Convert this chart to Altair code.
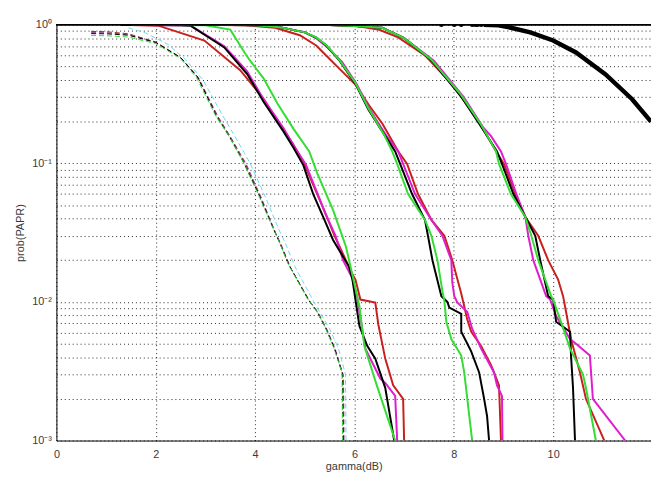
import altair as alt
import pandas as pd

# ---------------- data ----------------
# group A : dashed curves (leftmost bundle)
a_red_x = [0.70, 1.0, 1.45, 2.0, 2.5, 2.84, 3.24, 3.5, 3.8, 4.1, 4.4, 4.5, 4.7, 5.09, 5.25, 5.43, 5.6, 5.77, 5.78]
a_red_p = [0.895, 0.89, 0.86, 0.75, 0.58, 0.42, 0.22, 0.155, 0.10, 0.058, 0.032, 0.027, 0.018, 0.0102, 0.0085, 0.0064, 0.0046, 0.0030, 0.001]
a_mag_x = [0.70, 1.0, 1.45, 2.0, 2.5, 2.86, 3.25, 3.52, 3.82, 4.12, 4.42, 4.52, 4.72, 5.1, 5.27, 5.45, 5.62, 5.78, 5.79]
a_mag_p = [0.877, 0.875, 0.85, 0.745, 0.575, 0.415, 0.218, 0.152, 0.099, 0.057, 0.031, 0.026, 0.0175, 0.0101, 0.0084, 0.0063, 0.0045, 0.0029, 0.001]
a_blk_x = [0.70, 1.0, 1.45, 2.0, 2.5, 2.84, 3.22, 3.48, 3.78, 4.08, 4.38, 4.5, 4.68, 5.07, 5.24, 5.42, 5.6, 5.76, 5.77]
a_blk_p = [0.862, 0.86, 0.84, 0.744, 0.58, 0.42, 0.22, 0.156, 0.10, 0.059, 0.033, 0.0265, 0.0185, 0.0104, 0.0086, 0.0065, 0.0046, 0.0030, 0.001]
a_grn_x = [0.70, 1.0, 1.45, 2.0, 2.5, 2.82, 3.2, 3.47, 3.76, 4.06, 4.36, 4.48, 4.66, 5.05, 5.22, 5.41, 5.58, 5.75, 5.76]
a_grn_p = [0.835, 0.833, 0.815, 0.73, 0.57, 0.415, 0.222, 0.158, 0.102, 0.06, 0.034, 0.0275, 0.019, 0.0106, 0.0088, 0.0066, 0.0047, 0.0031, 0.001]
a_cya_x = [1.45, 1.8, 2.25, 2.6, 2.95, 3.35, 3.6, 3.9, 4.2, 4.5, 4.6, 4.8, 5.17, 5.5, 5.68, 5.82, 5.83]
a_cya_p = [0.95, 0.87, 0.72, 0.56, 0.40, 0.22, 0.155, 0.10, 0.058, 0.032, 0.027, 0.018, 0.0102, 0.0064, 0.0046, 0.0030, 0.001]

# group B : solid curves
b_red_x = [1.3, 2.05, 2.98, 3.70, 4.17, 4.50, 4.75, 4.97, 5.2, 5.4, 5.6, 5.8, 5.95, 6.02, 6.12, 6.42, 6.48, 6.62, 6.78, 6.98, 7.00]
b_red_p = [1.0, 0.984, 0.769, 0.47, 0.292, 0.191, 0.14, 0.103, 0.066, 0.045, 0.030, 0.021, 0.016, 0.0145, 0.0104, 0.0099, 0.0069, 0.0039, 0.0025, 0.0020, 0.001]
b_blk_x = [1.3, 2.5, 2.70, 3.38, 3.84, 4.17, 4.57, 4.77, 4.97, 5.17, 5.37, 5.57, 5.69, 5.89, 5.96, 6.02, 6.10, 6.26, 6.42, 6.62, 6.80]
b_blk_p = [1.0, 0.99, 0.984, 0.686, 0.44, 0.278, 0.17, 0.13, 0.097, 0.060, 0.041, 0.028, 0.0237, 0.018, 0.0145, 0.0104, 0.0067, 0.0048, 0.0039, 0.0024, 0.001]
b_mag_x = [1.3, 2.7, 3.38, 3.84, 4.17, 4.57, 4.80, 5.02, 5.22, 5.42, 5.62, 5.77, 5.95, 6.05, 6.22, 6.52, 6.62, 6.82, 6.86]
b_mag_p = [1.0, 0.985, 0.70, 0.46, 0.29, 0.18, 0.13, 0.098, 0.065, 0.043, 0.030, 0.020, 0.015, 0.011, 0.0046, 0.0028, 0.0026, 0.0021, 0.001]
b_grn_x = [1.5, 3.0, 3.50, 3.8, 3.9, 4.17, 4.45, 4.77, 5.09, 5.25, 5.57, 5.83, 5.98, 6.10, 6.20, 6.45, 6.82]
b_grn_p = [1.0, 0.99, 0.921, 0.62, 0.55, 0.41, 0.27, 0.178, 0.122, 0.085, 0.046, 0.025, 0.0145, 0.0093, 0.0048, 0.0025, 0.001]

# group C : solid curves
c_blk_x = [3.0, 4.0, 4.5, 5.0, 5.23, 5.43, 5.7, 6.02, 6.28, 6.62, 6.82, 6.92, 7.16, 7.42, 7.48, 7.57, 7.75, 7.87, 7.91, 8.15, 8.15, 8.35, 8.51, 8.61, 8.67, 8.71]
c_blk_p = [1.0, 0.99, 0.96, 0.88, 0.808, 0.71, 0.55, 0.374, 0.244, 0.157, 0.122, 0.099, 0.060, 0.039, 0.030, 0.020, 0.011, 0.0100, 0.0091, 0.0082, 0.0061, 0.0044, 0.0031, 0.0020, 0.0015, 0.001]
c_grn_x = [3.0, 4.0, 4.5, 5.0, 5.23, 5.43, 5.7, 6.02, 6.28, 6.60, 6.76, 6.86, 7.08, 7.42, 7.55, 7.67, 7.77, 7.81, 7.85, 7.95, 8.15, 8.21, 8.37]
c_grn_p = [1.0, 0.99, 0.96, 0.88, 0.81, 0.715, 0.555, 0.38, 0.25, 0.16, 0.122, 0.099, 0.060, 0.039, 0.030, 0.020, 0.012, 0.0101, 0.0072, 0.0054, 0.0041, 0.0031, 0.001]
c_red_x = [2.8, 3.8, 4.4, 4.9, 5.23, 5.43, 5.7, 6.02, 6.3, 6.56, 6.88, 7.06, 7.28, 7.55, 7.81, 7.97, 8.15, 8.21, 8.27, 8.35, 8.55, 8.75, 8.81, 8.91, 8.95]
c_red_p = [1.0, 0.99, 0.95, 0.84, 0.708, 0.60, 0.48, 0.37, 0.26, 0.194, 0.122, 0.099, 0.060, 0.039, 0.030, 0.020, 0.0115, 0.0093, 0.0075, 0.0061, 0.0048, 0.0035, 0.0031, 0.0025, 0.001]
c_mag_x = [3.0, 4.0, 4.5, 5.0, 5.23, 5.43, 5.75, 6.05, 6.32, 6.66, 6.88, 6.98, 7.22, 7.55, 7.77, 7.95, 7.97, 8.01, 8.07, 8.27, 8.37, 8.55, 8.81, 8.87, 8.97, 8.98]
c_mag_p = [1.0, 0.99, 0.96, 0.88, 0.80, 0.70, 0.54, 0.37, 0.24, 0.155, 0.122, 0.099, 0.060, 0.039, 0.030, 0.020, 0.0138, 0.011, 0.0099, 0.0085, 0.0064, 0.0046, 0.0031, 0.0025, 0.0021, 0.001]

# group D : solid curves
d_blk_x = [4.5, 5.5, 6.0, 6.56, 7.0, 7.55, 8.15, 8.55, 8.87, 8.97, 9.20, 9.44, 9.64, 9.74, 9.90, 10.0, 10.06, 10.34, 10.36, 10.40, 10.44]
d_blk_p = [1.0, 0.995, 0.98, 0.952, 0.80, 0.554, 0.302, 0.184, 0.122, 0.099, 0.060, 0.041, 0.030, 0.020, 0.011, 0.0104, 0.0072, 0.0061, 0.0041, 0.0024, 0.001]
d_grn_x = [4.5, 5.5, 6.0, 6.56, 7.0, 7.55, 8.15, 8.55, 8.85, 8.91, 9.15, 9.44, 9.56, 9.70, 9.96, 10.0, 10.20, 10.34, 10.60, 10.66, 10.86]
d_grn_p = [1.0, 0.995, 0.98, 0.95, 0.80, 0.56, 0.31, 0.19, 0.122, 0.099, 0.060, 0.041, 0.030, 0.020, 0.011, 0.0104, 0.0065, 0.0046, 0.0030, 0.0024, 0.001]
d_red_x = [4.0, 5.0, 5.5, 6.02, 6.5, 6.88, 7.42, 8.01, 8.5, 8.85, 9.01, 9.24, 9.44, 9.70, 9.90, 10.10, 10.20, 10.26, 10.36, 10.54, 10.66, 11.03]
d_red_p = [1.0, 0.998, 0.995, 0.984, 0.92, 0.81, 0.60, 0.356, 0.20, 0.122, 0.099, 0.060, 0.041, 0.030, 0.020, 0.0145, 0.011, 0.0085, 0.0054, 0.0031, 0.0020, 0.001]
d_mag_x = [4.5, 5.5, 6.0, 6.56, 7.0, 7.6, 8.2, 8.6, 8.75, 8.95, 9.05, 9.26, 9.44, 9.50, 9.60, 9.86, 9.94, 10.06, 10.34, 10.46, 10.74, 10.80, 11.45]
d_mag_p = [1.0, 0.995, 0.98, 0.95, 0.80, 0.55, 0.30, 0.18, 0.157, 0.122, 0.099, 0.060, 0.041, 0.030, 0.020, 0.011, 0.0104, 0.0079, 0.0054, 0.0050, 0.0041, 0.0020, 0.001]

# group E : thick black curve
e_x = [8.6, 8.9, 9.15, 9.54, 10.0, 10.46, 11.05, 11.59, 11.97]
e_p = [1.0, 0.99, 0.95, 0.88, 0.77, 0.63, 0.44, 0.29, 0.20]
e_dot_x = [7.75, 8.01, 8.15, 8.37, 8.43, 8.48, 8.55]
e_dot_p = [1.0, 1.0, 1.0, 1.0, 1.0, 1.0, 1.0]

x_ticks = [0, 2, 4, 6, 8, 10, 12]
y_ticks = [round(m * 10.0 ** k, 6) for k in (-3, -2, -1) for m in range(1, 10)] + [1.0]

RED = "#c8201e"
MAG = "#e01ccf"
GRN = "#33dd33"
BLK = "#000000"
CYA = "#6fd8e8"
DRED = "#9c2335"
DMAG = "#8a3a8f"


def frame(name, xs, ps):
    return pd.DataFrame({"x": xs, "p": ps, "series": name, "i": list(range(len(xs)))})


dashed = pd.concat([
    frame("A red", a_red_x, a_red_p),
    frame("A magenta", a_mag_x, a_mag_p),
    frame("A black", a_blk_x, a_blk_p),
    frame("A green", a_grn_x, a_grn_p),
    frame("A cyan", a_cya_x, a_cya_p),
])
solid = pd.concat([
    frame("B red", b_red_x, b_red_p),
    frame("B magenta", b_mag_x, b_mag_p),
    frame("B black", b_blk_x, b_blk_p),
    frame("B green", b_grn_x, b_grn_p),
    frame("C red", c_red_x, c_red_p),
    frame("C magenta", c_mag_x, c_mag_p),
    frame("C black", c_blk_x, c_blk_p),
    frame("C green", c_grn_x, c_grn_p),
    frame("D red", d_red_x, d_red_p),
    frame("D magenta", d_mag_x, d_mag_p),
    frame("D black", d_blk_x, d_blk_p),
    frame("D green", d_grn_x, d_grn_p),
])
thick = frame("E black", e_x, e_p)
dots = frame("E black", e_dot_x, e_dot_p)

names = ["A red", "A magenta", "A black", "A green", "A cyan",
         "B red", "B magenta", "B black", "B green",
         "C red", "C magenta", "C black", "C green",
         "D red", "D magenta", "D black", "D green", "E black"]
colors = [DRED, DMAG, BLK, GRN, CYA,
          RED, MAG, BLK, GRN,
          RED, MAG, BLK, GRN,
          RED, MAG, BLK, GRN, BLK]

TXT = "#3a3a3a"
FONT = "Liberation Sans"

label_expr = ("datum.value >= 0.99 ? '10⁰' : (abs(datum.value - 0.1) < 1e-9 ? '10⁻¹' : "
              "(abs(datum.value - 0.01) < 1e-9 ? '10⁻²' : (abs(datum.value - 0.001) < 1e-9 ? '10⁻³' : '')))")

X = alt.X("x:Q",
          scale=alt.Scale(domain=[0, 11.97], nice=False, zero=False),
          axis=alt.Axis(values=x_ticks, title="gamma(dB)", format="d", grid=True,
                        gridColor="#000000", gridOpacity=0.85, gridDash=[1, 3], gridWidth=1,
                        ticks=False, tickSize=0, labelFlush=False, labelPadding=8,
                        labelFont=FONT, labelFontSize=11, labelColor=TXT,
                        titleFont=FONT, titleFontSize=11, titleFontWeight="normal",
                        titleColor=TXT, titlePadding=1,
                        domainColor="#000000", domainWidth=1))
Y = alt.Y("p:Q",
          scale=alt.Scale(type="log", domain=[0.001, 1], nice=False),
          axis=alt.Axis(values=y_ticks, labelExpr=label_expr, title="prob(PAPR)", grid=True,
                        gridColor="#000000", gridOpacity=0.85, gridDash=[1, 3], gridWidth=1,
                        ticks=False, tickSize=0, labelPadding=5, labelOverlap=False,
                        labelFont=FONT, labelFontSize=11, labelColor=TXT,
                        titleFont=FONT, titleFontSize=11, titleFontWeight="normal",
                        titleColor=TXT, titlePadding=6,
                        domainColor="#000000", domainWidth=1))
C = alt.Color("series:N", scale=alt.Scale(domain=names, range=colors), legend=None)
O = alt.Order("i:Q")

dashed_layer = alt.Chart(dashed).mark_line(strokeWidth=1, strokeDash=[5, 3], clip=True).encode(
    x=X, y=Y, color=C, detail="series:N", order=O)
solid_layer = alt.Chart(solid).mark_line(strokeWidth=2, clip=True).encode(
    x=X, y=Y, color=C, detail="series:N", order=O)
thick_layer = alt.Chart(thick).mark_line(strokeWidth=4.5, clip=True).encode(
    x=X, y=Y, color=C, order=O)
dot_layer = alt.Chart(dots).mark_circle(size=22, opacity=1, clip=True).encode(
    x=X, y=Y, color=C)
top_border = alt.Chart(dots).mark_rule(color="#000000", strokeWidth=1).encode(
    y=alt.datum(1.0))

chart = alt.layer(dashed_layer, solid_layer, thick_layer, dot_layer, top_border).properties(
    width=602, height=421,
    padding={"left": 49, "top": 14, "right": 0, "bottom": 32},
    autosize=alt.AutoSizeParams(type="none"),
    background="white",
).configure_view(stroke=None)

chart.save("out.html", embed_options={"renderer": "svg", "actions": False})
